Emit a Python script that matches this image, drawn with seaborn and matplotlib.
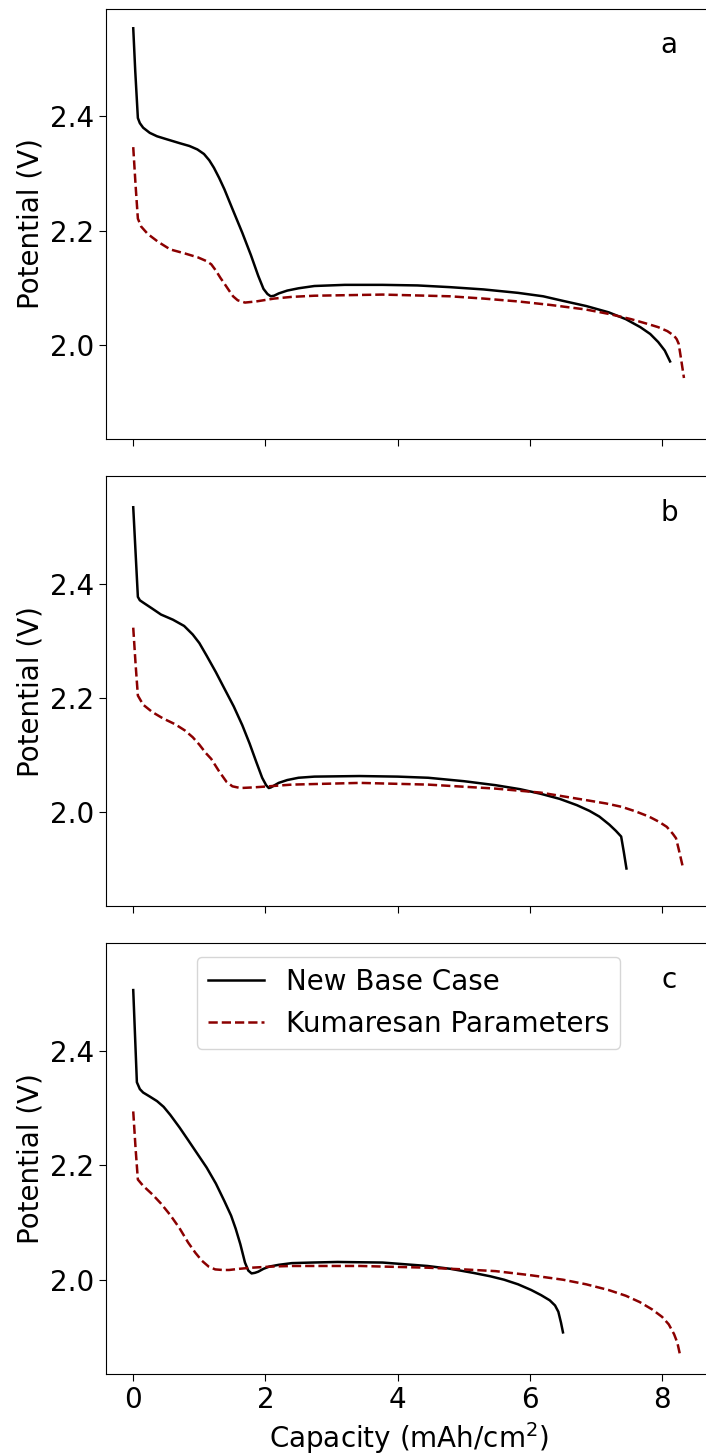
import matplotlib
matplotlib.use("Agg")
import matplotlib.pyplot as plt
import seaborn as sns
from matplotlib.ticker import MultipleLocator

# Discharge curves: capacity (mAh/cm^2) vs potential (V)
# Panel a
a_base_cap = [0.0, 0.03, 0.07, 0.10, 0.15, 0.25, 0.36, 0.5, 0.7, 0.85, 0.97, 1.07, 1.15, 1.22,
              1.30, 1.38, 1.5, 1.65, 1.78, 1.89, 1.97, 2.03, 2.08, 2.13, 2.2, 2.33, 2.5, 2.74,
              3.2, 3.77, 4.3, 4.79, 5.3, 5.82, 6.2, 6.5, 6.85, 7.19, 7.45, 7.67, 7.82, 7.94,
              8.04, 8.12]
a_base_pot = [2.554, 2.48, 2.397, 2.388, 2.380, 2.371, 2.365, 2.360, 2.353, 2.348, 2.342, 2.334,
              2.323, 2.310, 2.292, 2.272, 2.238, 2.196, 2.157, 2.121, 2.098, 2.089, 2.085, 2.086,
              2.090, 2.095, 2.099, 2.103, 2.105, 2.105, 2.104, 2.101, 2.097, 2.091, 2.085, 2.077,
              2.068, 2.057, 2.045, 2.031, 2.019, 2.005, 1.990, 1.971]
a_kum_cap = [0.0, 0.035, 0.07, 0.12, 0.22, 0.38, 0.56, 0.78, 0.98, 1.10, 1.18, 1.25, 1.32, 1.38,
             1.45, 1.51, 1.58, 1.69, 1.86, 2.13, 2.4, 2.74, 3.77, 4.79, 5.3, 5.82, 6.3, 6.84,
             7.2, 7.53, 7.8, 7.94, 8.08, 8.18, 8.22, 8.25, 8.28, 8.33]
a_kum_pot = [2.346, 2.28, 2.221, 2.207, 2.194, 2.180, 2.167, 2.160, 2.153, 2.147, 2.141, 2.130,
             2.117, 2.107, 2.095, 2.085, 2.078, 2.074, 2.076, 2.081, 2.084, 2.086, 2.088, 2.085,
             2.081, 2.076, 2.070, 2.062, 2.054, 2.045, 2.036, 2.031, 2.024, 2.016, 2.010, 2.002,
             1.980, 1.942]

# Panel b
b_base_cap = [0.0, 0.07, 0.1, 0.15, 0.28, 0.42, 0.6, 0.77, 0.90, 1.0, 1.11, 1.25, 1.38, 1.52,
              1.65, 1.76, 1.86, 1.95, 2.01, 2.05, 2.08, 2.2, 2.33, 2.5, 2.74, 3.42, 4.0, 4.46,
              5.0, 5.48, 5.85, 6.16, 6.45, 6.71, 6.9, 7.05, 7.2, 7.3, 7.38, 7.42, 7.46]
b_base_pot = [2.534, 2.377, 2.371, 2.367, 2.357, 2.346, 2.337, 2.326, 2.311, 2.296, 2.274, 2.245,
              2.216, 2.185, 2.152, 2.120, 2.088, 2.060, 2.047, 2.042, 2.043, 2.051, 2.056, 2.060,
              2.062, 2.063, 2.062, 2.060, 2.054, 2.047, 2.040, 2.032, 2.023, 2.012, 2.002, 1.992,
              1.978, 1.967, 1.957, 1.930, 1.901]
b_kum_cap = [0.0, 0.035, 0.07, 0.15, 0.29, 0.45, 0.63, 0.78, 0.90, 1.0, 1.1, 1.18, 1.3, 1.41,
             1.5, 1.62, 1.8, 1.93, 2.4, 3.43, 4.46, 5.48, 6.16, 6.84, 7.15, 7.39, 7.6, 7.8,
             7.95, 8.07, 8.16, 8.21, 8.25, 8.31]
b_kum_pot = [2.323, 2.26, 2.204, 2.188, 2.175, 2.164, 2.154, 2.143, 2.131, 2.118, 2.103, 2.093,
             2.071, 2.053, 2.045, 2.042, 2.043, 2.044, 2.048, 2.051, 2.048, 2.041, 2.034, 2.021,
             2.015, 2.009, 2.001, 1.992, 1.983, 1.974, 1.962, 1.954, 1.935, 1.905]

# Panel c
c_base_cap = [0.0, 0.055, 0.1, 0.15, 0.25, 0.36, 0.46, 0.56, 0.7, 0.83, 0.97, 1.11, 1.25, 1.38,
              1.48, 1.55, 1.62, 1.69, 1.74, 1.79, 1.84, 1.89, 1.97, 2.06, 2.2, 2.40, 2.7, 3.09,
              3.77, 4.45, 4.8, 5.14, 5.4, 5.61, 5.82, 6.02, 6.17, 6.30, 6.38, 6.43, 6.47, 6.50]
c_base_pot = [2.506, 2.345, 2.333, 2.327, 2.320, 2.312, 2.302, 2.288, 2.266, 2.244, 2.220, 2.196,
              2.168, 2.137, 2.112, 2.089, 2.062, 2.030, 2.016, 2.011, 2.012, 2.014, 2.019, 2.023,
              2.026, 2.029, 2.030, 2.031, 2.030, 2.024, 2.019, 2.012, 2.006, 2.000, 1.992, 1.982,
              1.973, 1.964, 1.955, 1.944, 1.925, 1.908]
c_kum_cap = [0.0, 0.035, 0.07, 0.15, 0.29, 0.42, 0.56, 0.7, 0.83, 0.94, 1.04, 1.14, 1.24, 1.35,
             1.45, 1.6, 1.79, 2.1, 2.40, 3.43, 4.45, 5.0, 5.48, 6.0, 6.50, 6.85, 7.19, 7.45,
             7.66, 7.85, 8.0, 8.1, 8.18, 8.23, 8.27]
c_kum_pot = [2.294, 2.23, 2.175, 2.164, 2.149, 2.133, 2.113, 2.090, 2.065, 2.047, 2.033, 2.023,
             2.018, 2.017, 2.017, 2.019, 2.021, 2.023, 2.024, 2.024, 2.021, 2.018, 2.015, 2.008,
             2.000, 1.992, 1.982, 1.972, 1.961, 1.948, 1.935, 1.922, 1.905, 1.890, 1.869]

panel_labels = ["a", "b", "c"]
series_names = ["New Base Case", "Kumaresan Parameters"]

panels = [
    (a_base_cap, a_base_pot, a_kum_cap, a_kum_pot),
    (b_base_cap, b_base_pot, b_kum_cap, b_kum_pot),
    (c_base_cap, c_base_pot, c_kum_cap, c_kum_pot),
]

plt.rcParams["font.size"] = 20
plt.rcParams["font.family"] = ["DejaVu Sans"]

W, H = 706, 1456
fig, axes = plt.subplots(3, 1, sharex=True, sharey=True, figsize=(W / 100, H / 100), dpi=100)

left = 105.7 / W
width = (711.5 - 105.7) / W
tops = [8.7, 476.3, 943.0]
heights = [430.6, 430.0, 431.3]

for ax, top, h, lab, (bc, bp, kc, kp) in zip(axes, tops, heights, panel_labels, panels):
    ax.set_position([left, 1 - (top + h) / H, width, h / H])
    sns.lineplot(x=bc, y=bp, ax=ax, color="black", lw=1.8, sort=False,
                 estimator=None, label=series_names[0])
    sns.lineplot(x=kc, y=kp, ax=ax, color="#8b0000", lw=1.8, ls="--", sort=False,
                 estimator=None, label=series_names[1])
    ax.set_ylabel("Potential (V)")
    ax.set_xlabel("")
    ax.text(0.93, 0.915, lab, transform=ax.transAxes, ha="center", va="center")
    ax.yaxis.set_major_locator(MultipleLocator(0.2))
    ax.xaxis.set_major_locator(MultipleLocator(2))
    ax.tick_params(direction="out", length=5)
    ax.spines["right"].set_visible(False)
    leg = ax.get_legend()
    if leg is not None:
        leg.remove()

axes[2].legend(loc="upper center")
axes[2].set_xlabel("Capacity (mAh/cm$^2$)")

fig.savefig("out.png", dpi=100)
